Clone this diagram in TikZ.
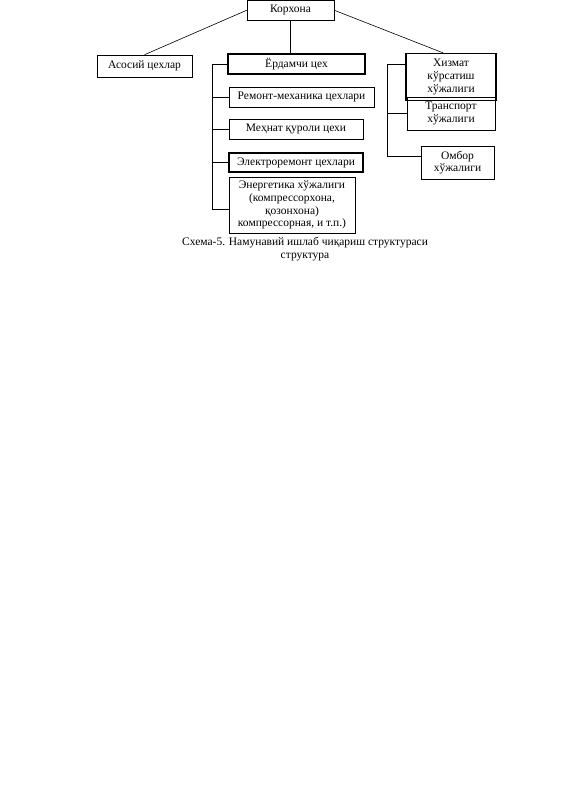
\documentclass[tikz,border=0pt]{standalone}
\usepackage{fontspec}
\setmainfont{Liberation Serif}
\begin{document}
\begin{tikzpicture}[x=1pt,y=-1pt,
  box/.style={draw, line width=0.6pt, inner sep=0pt, align=center,
    font=\fontsize{11.5}{12.7}\selectfont},
  heavy/.style={line width=1.3pt},
  conn/.style={line width=0.6pt},
  caption/.style={align=center, inner sep=0pt, font=\fontsize{11.5}{12.5}\selectfont}]
\useasboundingbox (0,0) rectangle (565,800);
\node[box, minimum width=87pt, minimum height=19.5pt] (korxona) at (290.5,10.25) {Корхона};
\node[box, minimum width=95pt, minimum height=22pt] (asosiy) at (144.5,66) {Асосий цехлар};
\node[box, heavy, minimum width=137pt, minimum height=20pt] (yordamchi) at (296.5,64) {Ёрдамчи цех};
\node[box, minimum width=145pt, minimum height=20pt] (remont) at (301.5,97) {Ремонт-механика цехлари};
\node[box, minimum width=134pt, minimum height=20pt] (mehnat) at (296,129) {Меҳнат қуроли цехи};
\node[box, heavy, minimum width=134pt, minimum height=19pt] (elektro) at (296,162.5) {Электроремонт цехлари};
\node[box, minimum width=126pt, minimum height=56pt] (energetika) at (292,205) {Энергетика хўжалиги\\(компрессорхона,\\қозонхона)\\компрессорная, и т.п.)};
\node[box, heavy, minimum width=90pt, minimum height=47pt] (xizmat) at (451,77) {Хизмат\\кўрсатиш\\хўжалиги};
\node[box, minimum width=88pt, minimum height=33pt] (transport) at (451,113.5) {Транспорт\\хўжалиги};
\node[box, minimum width=73pt, minimum height=33pt] (ombor) at (457.5,162.5) {Омбор\\хўжалиги};
\node[caption] (cap) at (305,249) {Схема-5. Намунавий ишлаб чиқариш структураси\\структура};
% top connectors
\draw[conn] (korxona.south) -- (korxona.south |- yordamchi.north);
\draw[conn] (korxona.west) -- (asosiy.north);
\draw[conn] (korxona.east) -- ([xshift=-8pt]xizmat.north);
% middle bus
\coordinate (mbus) at (212,64);
\draw[conn] (yordamchi.west) -- (mbus) |- ([yshift=-4pt]energetika.west);
\draw[conn] (remont.west) -- (remont.west -| mbus);
\draw[conn] (mehnat.west) -- (mehnat.west -| mbus);
\draw[conn] (elektro.west) -- (elektro.west -| mbus);
% right bus
\coordinate (rbus) at (387,64);
\draw[conn] ([yshift=13pt]xizmat.west) -- (rbus) |- ([yshift=6.5pt]ombor.west);
\draw[heavy] (transport.west) -- (transport.west -| rbus);
\end{tikzpicture}
\end{document}
